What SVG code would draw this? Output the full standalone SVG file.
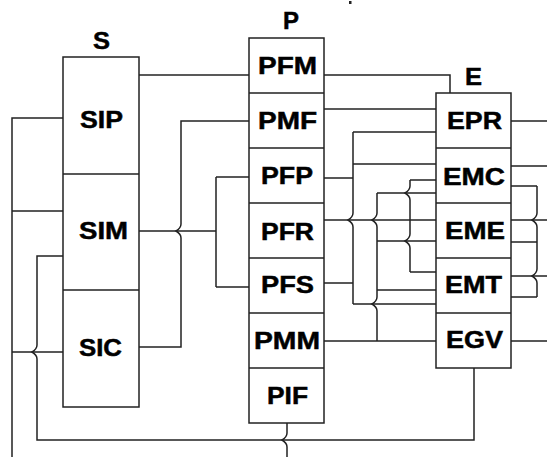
<svg xmlns="http://www.w3.org/2000/svg" width="547" height="457" viewBox="0 0 547 457">
<style>
.box{fill:#fff;stroke:#222;stroke-width:1.5}
.div{stroke:#222;stroke-width:1.5;fill:none}
.c{fill:none;stroke:#222;stroke-width:1.5}
.t{font-family:"Liberation Sans",Arial,sans-serif;font-weight:bold;font-size:24px;fill:#000;stroke:#000;stroke-width:0.5;text-anchor:middle}
</style>
<rect width="547" height="457" fill="#fff"/>
<rect x="349" y="1" width="2.5" height="3" fill="#222"/>
<g id="connectors">
<path class="c" d="M139 75H249"/>
<path class="c" d="M324 75H450V93"/>
<path class="c" d="M324 109H436"/>
<path class="c" d="M63 118H12V457M63 211H12M63 352H12"/>
<path class="c" d="M63 256H37V345Q37 349 32 352Q37 355 37 359V440H474V368"/>
<path class="c" d="M287 423V433Q287 437 282 440Q287 443 287 447V457"/>
<path class="c" d="M139 231H216M216 177V287M216 177H249M216 287H249"/>
<path class="c" d="M249 121H181V224Q181 228 176 231Q181 234 181 238V347H139"/>
<path class="c" d="M353 132V213Q353 217 348 220Q353 223 353 227V304"/>
<path class="c" d="M353 132H436M353 164H436M324 178H353M324 283H353M353 304H436"/>
<path class="c" d="M377 193V213Q377 217 372 220Q377 223 377 227V297Q377 301 372 304Q377 307 377 311V341"/>
<path class="c" d="M377 193H436M377 241H436M377 290H436M324 341H436"/>
<path class="c" d="M410 180V186Q410 190 405 193Q410 196 410 200V234Q410 238 405 241Q410 244 410 248V272"/>
<path class="c" d="M410 180H436M410 272H436"/>
<path class="c" d="M324 220H436"/>
<path class="c" d="M511 121H547M511 166H547M511 341H547"/>
<path class="c" d="M537 186V213Q537 217 532 220Q537 223 537 227V269Q537 273 532 276Q537 279 537 283V297"/>
<path class="c" d="M511 186H537M511 242H537M511 297H537M511 220H547M511 276H547"/>
</g>
<g id="S">
<rect class="box" x="63" y="57" width="76" height="350"/>
<path class="div" d="M63 174H139M63 290H139"/>
<text class="t" x="101.5" y="49" textLength="17" lengthAdjust="spacingAndGlyphs">S</text>
</g>
<g id="SIP"><text class="t" x="101.5" y="128" textLength="43" lengthAdjust="spacingAndGlyphs">SIP</text></g>
<g id="SIM"><text class="t" x="103.5" y="239" textLength="49" lengthAdjust="spacingAndGlyphs">SIM</text></g>
<g id="SIC"><text class="t" x="100.5" y="356" textLength="43" lengthAdjust="spacingAndGlyphs">SIC</text></g>
<g id="P">
<rect class="box" x="249" y="38" width="75" height="385"/>
<path class="div" d="M249 93H324M249 148H324M249 203H324M249 258H324M249 313H324M249 368H324"/>
<text class="t" x="291" y="29" textLength="16" lengthAdjust="spacingAndGlyphs">P</text>
</g>
<g id="PFM"><text class="t" x="287.5" y="74" textLength="59" lengthAdjust="spacingAndGlyphs">PFM</text></g>
<g id="PMF"><text class="t" x="287.5" y="129" textLength="59" lengthAdjust="spacingAndGlyphs">PMF</text></g>
<g id="PFP"><text class="t" x="287" y="184" textLength="52" lengthAdjust="spacingAndGlyphs">PFP</text></g>
<g id="PFR"><text class="t" x="287.5" y="240" textLength="53" lengthAdjust="spacingAndGlyphs">PFR</text></g>
<g id="PFS"><text class="t" x="287.5" y="293" textLength="53" lengthAdjust="spacingAndGlyphs">PFS</text></g>
<g id="PMM"><text class="t" x="287" y="349" textLength="66" lengthAdjust="spacingAndGlyphs">PMM</text></g>
<g id="PIF"><text class="t" x="287.5" y="404" textLength="41" lengthAdjust="spacingAndGlyphs">PIF</text></g>
<g id="E">
<rect class="box" x="436" y="93" width="75" height="275"/>
<path class="div" d="M436 148H511M436 203H511M436 258H511M436 313H511"/>
<text class="t" x="473.5" y="85" textLength="17" lengthAdjust="spacingAndGlyphs">E</text>
</g>
<g id="EPR"><text class="t" x="474.5" y="129" textLength="55" lengthAdjust="spacingAndGlyphs">EPR</text></g>
<g id="EMC"><text class="t" x="474" y="185" textLength="62" lengthAdjust="spacingAndGlyphs">EMC</text></g>
<g id="EME"><text class="t" x="475" y="239" textLength="60" lengthAdjust="spacingAndGlyphs">EME</text></g>
<g id="EMT"><text class="t" x="473.5" y="293" textLength="57" lengthAdjust="spacingAndGlyphs">EMT</text></g>
<g id="EGV"><text class="t" x="474.5" y="348" textLength="57" lengthAdjust="spacingAndGlyphs">EGV</text></g>
</svg>
